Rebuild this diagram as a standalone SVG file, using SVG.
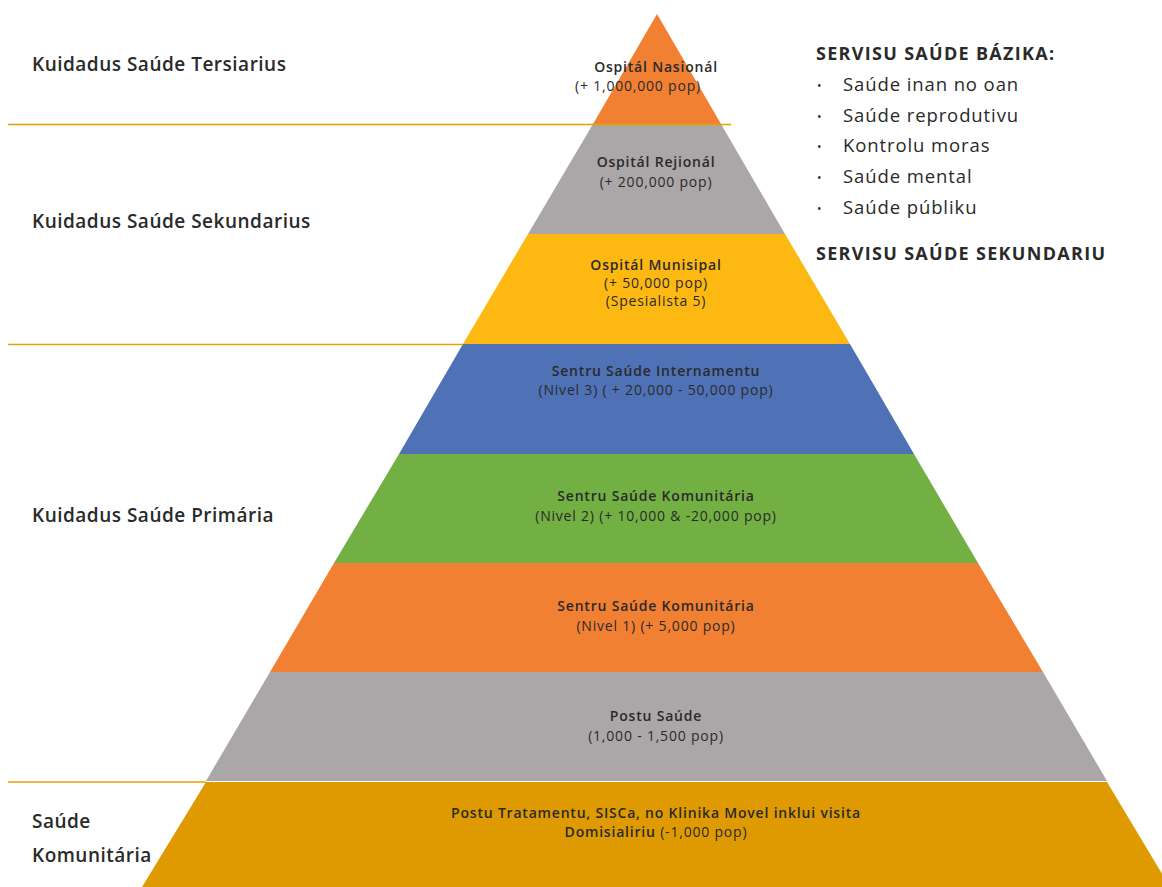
<svg xmlns="http://www.w3.org/2000/svg" width="1162" height="887" viewBox="0 0 1162 887">
<style>
.lbl{font-family:"Open Sans","Liberation Sans",sans-serif;font-weight:600;font-size:19px;letter-spacing:0.5px;fill:#2a2a2a}
.hd{font-family:"Open Sans","Liberation Sans",sans-serif;font-weight:bold;font-size:18px;letter-spacing:1.3px;fill:#2a2a2a}
.bl{font-family:"Open Sans","Liberation Sans",sans-serif;font-size:18.5px;letter-spacing:0.9px;fill:#2a2a2a}
.dot{font-family:"Open Sans","Liberation Sans",sans-serif;font-size:12px;fill:#2a2a2a}
.t{font-family:"Open Sans","Liberation Sans",sans-serif;font-size:14px;letter-spacing:0.8px;fill:#2a2a2a;text-anchor:middle}
.tb{font-weight:600}
.sep{stroke:#E8A200;stroke-width:1.6}
</style>
<rect width="1162" height="887" fill="#ffffff"/>
<g id="layer1"><polygon points="657,14 721,124 593,124" fill="#F28033"/>
<text class="t tb" x="656" y="72">Ospitál Nasionál</text><text class="t" x="638" y="91">(+ 1,000,000 pop)</text></g>
<g id="layer2"><polygon points="593,124 721,124 785,234 528,234" fill="#ABA7A9"/>
<text class="t tb" x="656" y="167">Ospitál Rejionál</text><text class="t" x="656" y="187">(+ 200,000 pop)</text></g>
<g id="layer3"><polygon points="528,234 785,234 850,344 463,344" fill="#FDB812"/>
<text class="t tb" x="656" y="270">Ospitál Munisipal</text><text class="t" x="656" y="288">(+ 50,000 pop)</text><text class="t" x="656" y="306">(Spesialista 5)</text></g>
<g id="layer4"><polygon points="463,344 850,344 914,454 399,454" fill="#4F72B7"/>
<text class="t tb" x="656" y="376">Sentru Saúde Internamentu</text><text class="t" x="656" y="395">(Nivel 3) ( + 20,000 - 50,000 pop)</text></g>
<g id="layer5"><polygon points="399,454 914,454 978,563 334,563" fill="#72B043"/>
<text class="t tb" x="656" y="501">Sentru Saúde Komunitária</text><text class="t" x="656" y="521">(Nivel 2) (+ 10,000 &amp; -20,000 pop)</text></g>
<g id="layer6"><polygon points="334,563 978,563 1043,672 270,672" fill="#F28033"/>
<text class="t tb" x="656" y="611">Sentru Saúde Komunitária</text><text class="t" x="656" y="631">(Nivel 1) (+ 5,000 pop)</text></g>
<g id="layer7"><polygon points="270,672 1043,672 1107,781 206,781" fill="#ABA7A9"/>
<text class="t tb" x="656" y="721">Postu Saúde</text><text class="t" x="656" y="741">(1,000 - 1,500 pop)</text></g>
<g id="layer8"><polygon points="206,782 1107,782 1170,887 142,887" fill="#DE9A00"/>
<text class="t tb" x="656" y="818">Postu Tratamentu, SISCa, no Klinika Movel inklui visita</text><text class="t" x="656" y="837"><tspan class="tb">Domisialiriu</tspan> (-1,000 pop)</text></g>
<g id="connectors">
<line class="sep" x1="8" y1="124.5" x2="731" y2="124.5"/>
<line class="sep" x1="8" y1="344.5" x2="463" y2="344.5"/>
<line class="sep" x1="8" y1="782" x2="206" y2="782"/>
</g>
<g id="levels">
<text class="lbl" x="32" y="71">Kuidadus Saúde Tersiarius</text>
<text class="lbl" x="32" y="228">Kuidadus Saúde Sekundarius</text>
<text class="lbl" x="32" y="522">Kuidadus Saúde Primária</text>
<text class="lbl" x="32" y="828">Saúde</text>
<text class="lbl" x="32" y="862">Komunitária</text>
</g>
<g id="services">
<text class="hd" x="816" y="60">SERVISU SAÚDE BÁZIKA:</text>
<text class="dot" x="817" y="90">•</text><text class="bl" x="843" y="91">Saúde inan no oan</text>
<text class="dot" x="817" y="121">•</text><text class="bl" x="843" y="122">Saúde reprodutivu</text>
<text class="dot" x="817" y="151">•</text><text class="bl" x="843" y="152">Kontrolu moras</text>
<text class="dot" x="817" y="182">•</text><text class="bl" x="843" y="183">Saúde mental</text>
<text class="dot" x="817" y="213">•</text><text class="bl" x="843" y="214">Saúde públiku</text>
<text class="hd" x="816" y="260">SERVISU SAÚDE SEKUNDARIU</text>
</g>
</svg>
